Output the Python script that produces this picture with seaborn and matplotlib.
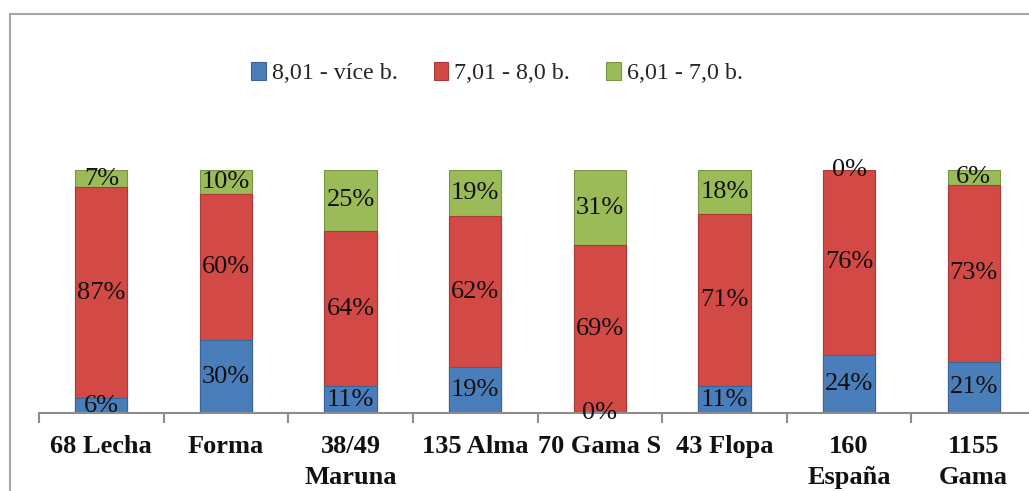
import matplotlib
matplotlib.use("Agg")
import matplotlib.pyplot as plt
from matplotlib.patches import Rectangle, Patch
import seaborn as sns
import pandas as pd
import numpy as np

# Data
categories = ["68 Lecha", "Forma", "38/49\nMaruna", "135 Alma", "70 Gama S",
              "43 Flopa", "160\nEspaña", "1155\nGama"]
series_names = ["8,01 - více b.", "7,01 - 8,0 b.", "6,01 - 7,0 b."]
high = [6, 30, 11, 19, 0, 11, 24, 21]      # 8,01 - více b.
mid = [87, 60, 64, 62, 69, 71, 76, 73]     # 7,01 - 8,0 b.
low = [7, 10, 25, 19, 31, 18, 0, 6]        # 6,01 - 7,0 b.

colors = ["#4a7ebb", "#d34945", "#9bbb59"]
edges = ["#3a6396", "#a83a37", "#7a9446"]

sns.set_theme(style="white")
plt.rcParams["font.family"] = ["Liberation Serif", "DejaVu Serif"]

fig = plt.figure(figsize=(10.29, 4.91), dpi=100)
ax = fig.add_axes([39 / 1029, (491 - 413) / 491, 997 / 1029, (413 - 170) / 491])

df = pd.DataFrame({"cat": categories, "high": high, "mid": mid, "low": low})
series = [np.array(high, float), np.array(mid, float), np.array(low, float)]
cum = np.cumsum(series, axis=0)
df["c0"] = cum[0]
df["c1"] = cum[1]
df["c2"] = cum[2]

# Stacked bars: draw cumulative totals from the top segment down
for i in (2, 1, 0):
    sns.barplot(data=df, x="cat", y=f"c{i}", color=colors[i], width=0.42,
                edgecolor=edges[i], linewidth=0.8, saturation=1, ax=ax)

# Segment value labels
for j in range(len(categories)):
    base = 0.0
    for i in range(3):
        v = series[i][j]
        ax.text(j, base + v / 2, f"{int(v)}%", ha="center", va="center",
                fontsize=19, color="#111111")
        base += v

ax.set_xlim(-0.5, 7.5)
ax.set_ylim(0, 100)
ax.set_xlabel("")
ax.set_ylabel("")
ax.set_yticks([])
for s in ["top", "right", "left"]:
    ax.spines[s].set_visible(False)
ax.spines["bottom"].set_color("#8c8c8c")
ax.spines["bottom"].set_linewidth(1.5)

ax.set_xticks(range(len(categories)))
ax.set_xticklabels(categories, fontsize=19, fontweight="bold", color="#111111",
                   linespacing=1.45)
ax.tick_params(axis="x", which="major", length=0, pad=16)
ax.set_xticks(np.arange(-0.5, 8.0, 1.0), minor=True)
ax.tick_params(axis="x", which="minor", bottom=True, length=7, width=1.5,
               color="#8c8c8c", direction="out")

handles = [Patch(facecolor=c, edgecolor=e, linewidth=0.8) for c, e in zip(colors, edges)]
fig.legend(handles, series_names, loc="center", bbox_to_anchor=(497 / 1029, 1 - 73 / 491),
           ncol=3, frameon=False, fontsize=17.3, handlelength=0.6, handleheight=0.8,
           handletextpad=0.25, columnspacing=1.5)

# Chart area border
fig.patches.append(Rectangle((10 / 1029, -0.1), 1.2, 1 - 14 / 491 + 0.1,
                             transform=fig.transFigure, fill=False,
                             edgecolor="#a6a6a6", linewidth=1.5))

fig.savefig("out.png", dpi=100)
